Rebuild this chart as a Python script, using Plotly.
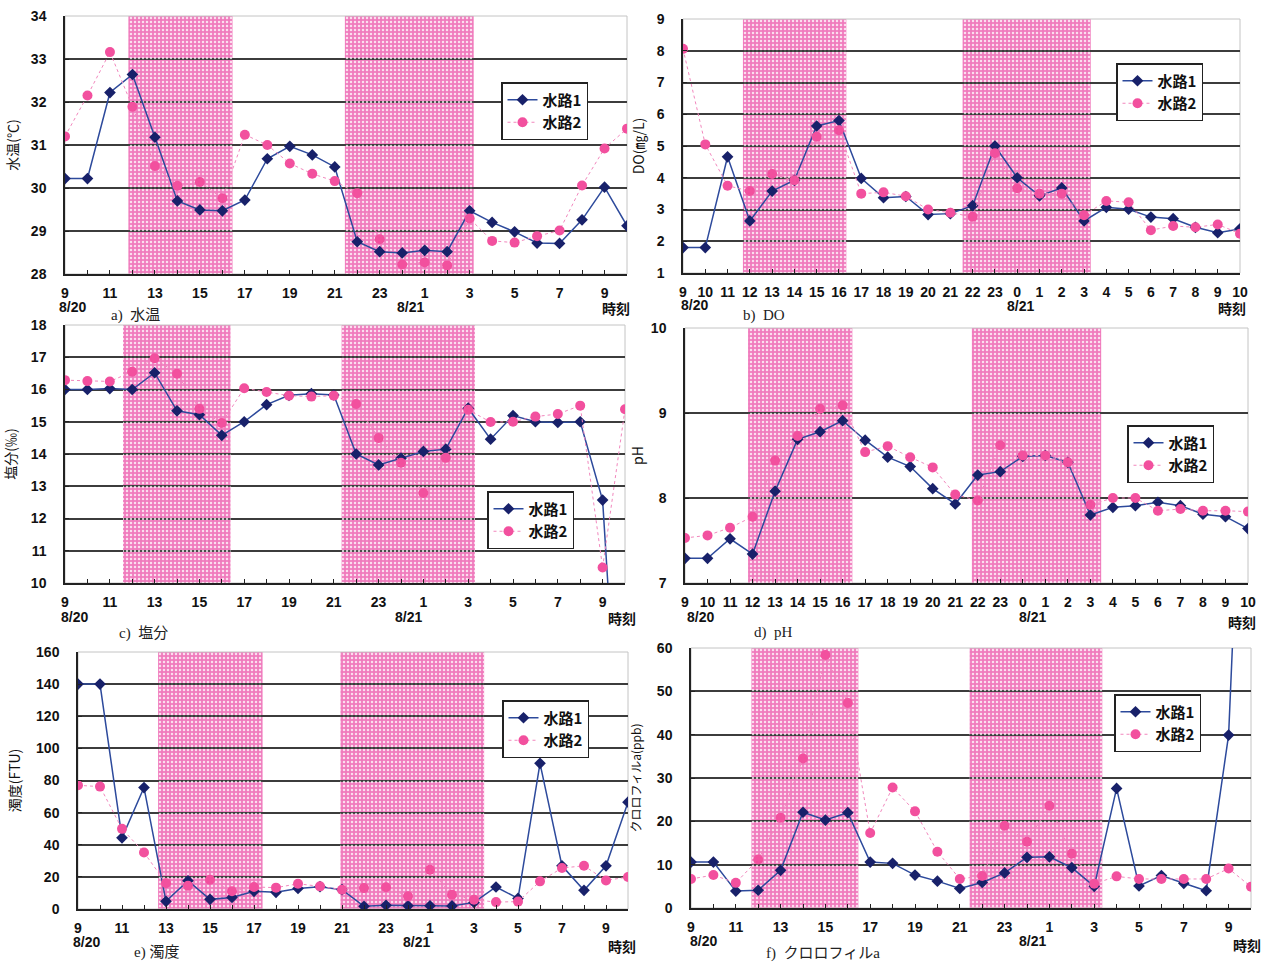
import plotly.graph_objects as go

# Sampling times (hourly, 8/20 09:00 -> 8/21 10:00)
hours = [9, 10, 11, 12, 13, 14, 15, 16, 17, 18, 19, 20, 21, 22, 23,
         0, 1, 2, 3, 4, 5, 6, 7, 8, 9, 10]

# a) water temperature (deg C)
temp_ch1 = [30.22, 30.22, 32.22, 32.64, 31.18, 29.70, 29.49, 29.47, 29.72, 30.68, 30.97, 30.77, 30.49,
            28.75, 28.52, 28.49, 28.55, 28.52, 29.47, 29.20, 28.98, 28.72, 28.71, 29.26, 30.02, 29.12]
temp_ch2 = [31.20, 32.15, 33.16, 31.89, 30.51, 30.05, 30.14, 29.76, 31.24, 31.00, 30.57, 30.33, 30.16,
            29.88, 28.81, 28.22, 28.27, 28.20, 29.29, 28.77, 28.73, 28.88, 29.01, 30.06, 30.92, 31.38]

# b) dissolved oxygen (mg/L)
do_ch1 = [1.80, 1.80, 4.66, 2.64, 3.58, 3.92, 5.63, 5.80, 3.98, 3.37, 3.41, 2.84, 2.87,
          3.12, 5.00, 4.00, 3.43, 3.68, 2.64, 3.07, 3.01, 2.76, 2.71, 2.44, 2.27, 2.39]
do_ch2 = [8.06, 5.05, 3.75, 3.58, 4.12, 3.92, 5.29, 5.50, 3.50, 3.54, 3.42, 3.00, 2.90,
          2.77, 4.77, 3.67, 3.50, 3.50, 2.82, 3.27, 3.23, 2.35, 2.48, 2.44, 2.53, 2.24]

# c) salinity (permil)
sal_ch1 = [16.00, 16.00, 16.03, 16.00, 16.52, 15.34, 15.22, 14.58, 15.00, 15.53, 15.82, 15.87, 15.83,
           14.00, 13.66, 13.87, 14.08, 14.15, 15.42, 14.46, 15.19, 15.00, 14.98, 15.00, 12.57, 1.50]
sal_ch2 = [16.29, 16.26, 16.25, 16.55, 16.97, 16.49, 15.40, 14.96, 16.04, 15.92, 15.81, 15.78, 15.81,
           15.55, 14.50, 13.73, 12.79, 13.88, 15.37, 14.99, 15.00, 15.16, 15.24, 15.50, 10.48, 15.39]

# d) pH
ph_ch1 = [7.29, 7.29, 7.52, 7.34, 8.08, 8.69, 8.78, 8.91, 8.68, 8.48, 8.37, 8.11, 7.93,
          8.27, 8.31, 8.49, 8.50, 8.42, 7.80, 7.89, 7.91, 7.95, 7.91, 7.81, 7.78, 7.64]
ph_ch2 = [7.53, 7.56, 7.65, 7.78, 8.44, 8.73, 9.05, 9.09, 8.54, 8.61, 8.48, 8.36, 8.04,
          7.97, 8.62, 8.50, 8.50, 8.42, 7.92, 8.00, 8.00, 7.85, 7.87, 7.85, 7.85, 7.84]

# e) turbidity (FTU)
turb_ch1 = [140.0, 140.0, 44.3, 75.6, 4.8, 17.6, 6.0, 7.2, 11.0, 10.4, 12.8, 13.9, 12.0,
            1.7, 2.3, 2.0, 2.0, 1.9, 4.1, 13.7, 6.6, 90.7, 26.9, 11.6, 26.9, 66.5]
turb_ch2 = [77.0, 76.2, 49.9, 35.2, 16.1, 14.5, 18.2, 11.0, 13.7, 13.3, 15.7, 14.1, 12.0,
            13.0, 13.5, 7.9, 24.4, 8.9, 5.8, 4.3, 4.6, 17.2, 25.5, 26.9, 17.8, 19.9]

# f) chlorophyll a (ppb)
chl_ch1 = [10.6, 10.6, 3.9, 4.1, 8.7, 22.1, 20.3, 22.0, 10.6, 10.3, 7.6, 6.2, 4.5,
           5.9, 8.1, 11.7, 11.8, 9.3, 5.0, 27.6, 5.1, 7.5, 5.7, 4.0, 39.9, 160.0]
chl_ch2 = [6.7, 7.6, 5.8, 11.2, 20.8, 34.5, 58.4, 47.3, 17.3, 27.8, 22.3, 13.0, 6.7,
           7.4, 19.0, 15.3, 23.6, 12.5, 5.6, 7.3, 6.7, 6.7, 6.7, 6.7, 9.1, 4.9]

series_names = ["水路1", "水路2"]
date_labels = ["8/20", "8/21"]

# Shaded periods, in hours elapsed since 8/20 09:00
shade_a = [(2.82, 7.45), (12.45, 18.18)]
shade_b = [(2.69, 7.33), (12.55, 18.30)]
shade_c = [(2.59, 7.39), (12.35, 18.30)]
shade_d = [(2.80, 7.43), (12.74, 18.48)]
shade_e = [(3.64, 8.39), (11.93, 18.46)]
shade_f = [(2.70, 7.47), (12.44, 18.36)]

PX_W, PX_H = 1268, 965
SANS = "Liberation Sans, Arial, Noto Sans CJK JP, sans-serif"
JP = "Noto Sans CJK JP, Liberation Sans, sans-serif"
SERIF = "Liberation Serif, Noto Sans CJK JP, serif"
C1_LINE, C1_MARK = "#2d4a9c", "#18216a"
C2_LINE, C2_MARK = "#f287bd", "#f2509e"
BAND = "#f07bbd"

xs = list(range(len(hours)))


def xlabels(every_hour):
    return [str(h) if (every_hour or i % 2 == 0) else "" for i, h in enumerate(hours)]


def px_x(v):
    return v / PX_W


def px_y(v):
    return 1 - v / PX_H


def text_at(text, x, y, font):
    return dict(text=text, xref="paper", yref="paper", x=px_x(x), y=px_y(y),
                xanchor="center", yanchor="middle", showarrow=False, font=font)


# per panel: series, y-range, step, y title, title size, title standoff, shading, caption,
# plot box in px [x0, x1, y0, y1], legend top-left px, hourly labels?, caption pos, 時刻 pos, date label positions
panels = [
    (temp_ch1, temp_ch2, (28, 34), 1, "水温(℃)", 14, 9, shade_a, "a)  水温", (65, 627, 16, 274), (501, 82), False,
     (135, 315), (616, 308), [(72, 307), (410, 307)]),
    (do_ch1, do_ch2, (1, 9), 1, "DO(㎎/L)", 14, 9, shade_b, "b)  DO", (683, 1240, 19, 273), (1116, 63), True,
     (764, 315), (1232, 308), [(694, 305), (1020, 306)]),
    (sal_ch1, sal_ch2, (10, 18), 1, "塩分(‰)", 14, 11, shade_c, "c)  塩分", (65, 625, 325, 583), (487, 491), False,
     (143, 633), (622, 618), [(74, 617), (408, 617)]),
    (ph_ch1, ph_ch2, (7, 10), 1, "pH", 14, 4, shade_d, "d)  pH", (685, 1248, 328, 583), (1127, 425), True,
     (773, 632), (1242, 622), [(700, 617), (1032, 617)]),
    (turb_ch1, turb_ch2, (0, 160), 20, "濁度(FTU)", 14, 12, shade_e, "e) 濁度", (78, 628, 652, 909), (502, 700),
     False, (156, 952), (622, 946), [(86, 942), (416, 942)]),
    (chl_ch1, chl_ch2, (0, 60), 10, "クロロフィルa(ppb)", 12, 13, shade_f, "f)  クロロフィルa",
     (691, 1251, 648, 908), (1114, 694), False, (823, 953), (1247, 945), [(703, 941), (1032, 941)]),
]

fig = go.Figure()
layout = dict(shapes=[], annotations=[])

for k, (v1, v2, yr, dt, ytitle, tsize, standoff, shade, caption, box, leg, every,
        cap_xy, jikoku_xy, date_xy) in enumerate(panels, start=1):
    xa = "x" if k == 1 else f"x{k}"
    ya = "y" if k == 1 else f"y{k}"
    lg = "legend" if k == 1 else f"legend{k}"
    x0, x1, y0, y1 = box

    # shaded periods: solid pink under the grid, white dot texture on top
    for (a, b) in shade:
        layout["shapes"].append(dict(type="rect", xref=xa, yref=f"{ya} domain", x0=a, x1=b, y0=0, y1=1,
                                     fillcolor=BAND, line=dict(width=0), layer="below"))
        fig.add_trace(go.Scatter(
            x=[a, b, b, a, a], y=[yr[0], yr[0], yr[1], yr[1], yr[0]], xaxis=xa, yaxis=ya,
            mode="lines", line=dict(width=0), fill="toself", fillcolor="rgba(0,0,0,0)",
            fillpattern=dict(shape=".", fgcolor="rgba(255,255,255,0.75)", bgcolor="rgba(0,0,0,0)",
                             size=4, solidity=0.3, fillmode="replace"),
            hoverinfo="skip", showlegend=False))

    # light frame around the plot area
    layout["shapes"].append(dict(type="rect", xref=f"{xa} domain", yref=f"{ya} domain", x0=0, x1=1, y0=0, y1=1,
                                 line=dict(color="#c4c4c4", width=1), layer="below"))

    fig.add_trace(go.Scatter(
        x=xs, y=v1, xaxis=xa, yaxis=ya, name=series_names[0], legend=lg, mode="lines+markers",
        line=dict(color=C1_LINE, width=1.5),
        marker=dict(symbol="diamond", size=9, color=C1_MARK)))
    fig.add_trace(go.Scatter(
        x=xs, y=v2, xaxis=xa, yaxis=ya, name=series_names[1], legend=lg, mode="lines+markers",
        line=dict(color=C2_LINE, width=1, dash="dot"),
        marker=dict(symbol="circle", size=10, color=C2_MARK)))

    ticks_y = list(range(yr[0], yr[1] + 1, dt))
    layout[f"xaxis{'' if k == 1 else k}"] = dict(
        domain=[px_x(x0), px_x(x1)], anchor=ya, range=[0, len(hours) - 1], automargin=False,
        tickmode="array", tickvals=xs, ticktext=xlabels(every), tickangle=0,
        ticks="inside", ticklen=4, tickcolor="#222", showgrid=False, zeroline=False,
        showline=True, linecolor="#222", linewidth=1.5, ticklabelstandoff=5,
        tickfont=dict(family=SANS, size=14, color="#111", weight="bold"))
    layout[f"yaxis{'' if k == 1 else k}"] = dict(
        domain=[px_y(y1), px_y(y0)], anchor=xa, range=list(yr), automargin=False,
        tickmode="array", tickvals=ticks_y, ticks="inside", ticklen=4, tickcolor="#222",
        showgrid=False, zeroline=False, showline=True, linecolor="#222", linewidth=1.5,
        ticklabelstandoff=14,
        minor=dict(tickmode="array", tickvals=ticks_y[1:-1], showgrid=True, gridcolor="#3c3c3c",
                   gridwidth=1.6, ticks=""),
        tickfont=dict(family=SANS, size=14, color="#111", weight="bold"),
        title=dict(text=ytitle, font=dict(family=JP, size=tsize, color="#111"), standoff=standoff))

    layout[lg] = dict(x=px_x(leg[0]), y=px_y(leg[1]), xanchor="left", yanchor="top",
                      bgcolor="white", bordercolor="#222", borderwidth=1.5,
                      font=dict(family=JP, size=15, color="#111", weight="bold"), itemwidth=30,
                      tracegroupgap=0)

    layout["annotations"].append(text_at(caption, *cap_xy, dict(family=SERIF, size=15, color="#222")))
    layout["annotations"].append(text_at("時刻", *jikoku_xy,
                                         dict(family=JP, size=14, color="#111", weight="bold")))
    for lbl, (dx, dy) in zip(date_labels, date_xy):
        layout["annotations"].append(text_at(lbl, dx, dy,
                                             dict(family=SANS, size=14, color="#111", weight="bold")))

fig.update_layout(width=PX_W, height=PX_H,
                  margin=dict(l=0, r=0, t=0, b=0, autoexpand=False),
                  paper_bgcolor="white", plot_bgcolor="white", **layout)

fig.write_html("out.html")
